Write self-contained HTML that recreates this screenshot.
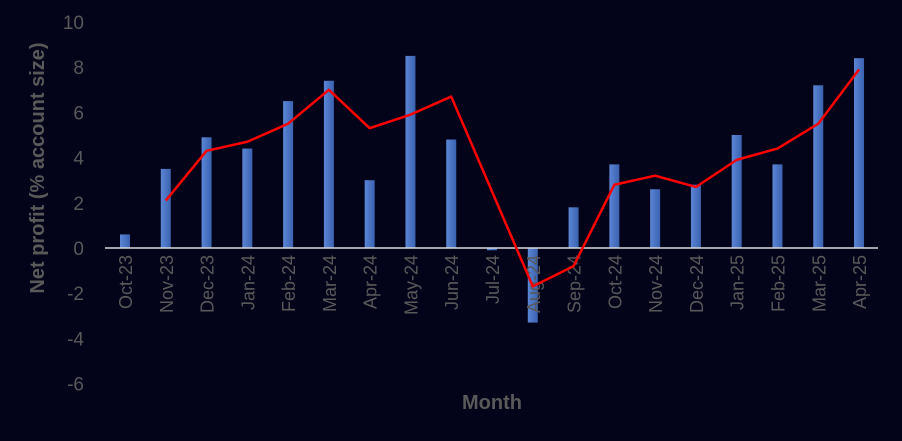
<!DOCTYPE html>
<html><head><meta charset="utf-8">
<style>
html,body{margin:0;padding:0;background:#03031a;}
svg{display:block;font-family:"Liberation Sans",sans-serif;}
</style></head>
<body>
<svg id="chart" width="902" height="441">
<rect width="902" height="441" fill="#03031a"/>
<defs><linearGradient id="bg" x1="0" x2="1"><stop offset="0" stop-color="#5b86d6"/><stop offset="1" stop-color="#3a62b0"/></linearGradient></defs>
<g id="yt"></g><g id="bars"></g><g id="xt"></g><g id="ln"></g>
<text x="492" y="409" text-anchor="middle" font-size="20" font-weight="bold" fill="#595959">Month</text>
<text transform="translate(44,168) rotate(-90)" text-anchor="middle" font-size="20" font-weight="bold" fill="#595959">Net profit (% account size)</text>
</svg>
<script>
const categories=["Oct-23","Nov-23","Dec-23","Jan-24","Feb-24","Mar-24","Apr-24","May-24","Jun-24","Jul-24","Aug-24","Sep-24","Oct-24","Nov-24","Dec-24","Jan-25","Feb-25","Mar-25","Apr-25"];
const barValues=[0.6,3.5,4.9,4.4,6.5,7.4,3.0,8.5,4.8,-0.1,-3.3,1.8,3.7,2.6,2.8,5.0,3.7,7.2,8.4];
const lineValues=[null,2.1,4.3,4.7,5.5,7.0,5.3,5.9,6.7,2.5,-1.7,-0.8,2.8,3.2,2.7,3.9,4.4,5.5,7.9];
const yTicks=[10,8,6,4,2,0,-2,-4,-6];
const NS="http://www.w3.org/2000/svg";
const y=v=>248-v*22.6;
const x=i=>125+i*40.78;
function mk(t,a,p){const e=document.createElementNS(NS,t);for(const k in a)e.setAttribute(k,a[k]);p.appendChild(e);return e;}
const yt=document.getElementById('yt'),bars=document.getElementById('bars'),xt=document.getElementById('xt'),ln=document.getElementById('ln');
yTicks.forEach(v=>{const t=mk('text',{x:84,y:y(v)+7,'text-anchor':'end','font-size':19,fill:'#595959'},yt);t.textContent=v;

});
barValues.forEach((v,i)=>{const r=mk('rect',{x:x(i)-5,y:Math.min(y(v),y(0)),width:10,height:Math.abs(y(v)-y(0)),fill:'url(#bg)'},bars);

});
const ax=mk('line',{x1:105,x2:878,y1:y(0),y2:y(0),stroke:'#d9d9d9','stroke-width':1.5},bars);


categories.forEach((c,i)=>{const t=mk('text',{transform:`translate(${x(i)+7},${y(0)+7}) rotate(-90)`,'text-anchor':'end','font-size':18,fill:'#595959'},xt);t.textContent=c;

});
const pts=lineValues.map((v,i)=>v==null?null:x(i)+','+y(v)).filter(p=>p);
const pl=mk('polyline',{points:pts.join(' '),fill:'none',stroke:'#ff0000','stroke-width':2.5,'stroke-linejoin':'round'},ln);


</script>
</body></html>
